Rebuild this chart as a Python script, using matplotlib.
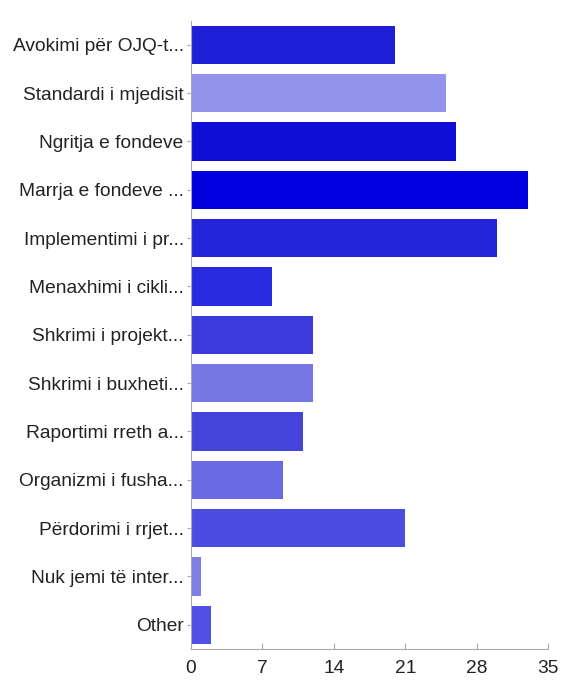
import matplotlib
matplotlib.use("Agg")
import matplotlib.pyplot as plt

categories = [
    "Avokimi për OJQ-t...",
    "Standardi i mjedisit",
    "Ngritja e fondeve",
    "Marrja e fondeve ...",
    "Implementimi i pr...",
    "Menaxhimi i cikli...",
    "Shkrimi i projekt...",
    "Shkrimi i buxheti...",
    "Raportimi rreth a...",
    "Organizmi i fusha...",
    "Përdorimi i rrjet...",
    "Nuk jemi të inter...",
    "Other",
]
values = [20, 25, 26, 33, 30, 8, 12, 12, 11, 9, 21, 1, 2]
colors = ["#1f1fd8", "#9494ec", "#0e0ed6", "#0000df", "#2424da", "#2a2ae0",
          "#3b3bdb", "#7777e6", "#4444dd", "#6a6ae4", "#4c4ce3", "#7f7fe6", "#5050e2"]
xticks = [0, 7, 14, 21, 28, 35]

plt.rcParams["font.family"] = ["Liberation Sans", "DejaVu Sans"]

fig = plt.figure(figsize=(5.65, 6.86), dpi=100)
ax = fig.add_axes([0.3375, 0.054, 0.633, 0.916])

ypos = list(range(len(categories)))
ax.barh(ypos, values, height=0.79, color=colors, edgecolor="none")
ax.set_ylim(len(categories) - 0.5, -0.5)
ax.set_xlim(0, 35)
ax.set_yticks(ypos)
ax.set_yticklabels(categories, fontsize=13.8, color="#222222")
ax.set_xticks(xticks)
ax.set_xticklabels([str(t) for t in xticks], fontsize=13.8, color="#222222")

for s in ["top", "right"]:
    ax.spines[s].set_visible(False)
for s in ["left", "bottom"]:
    ax.spines[s].set_color("#aaaaaa")
    ax.spines[s].set_linewidth(0.8)
ax.tick_params(axis="y", length=3, color="#aaaaaa", pad=2)
ax.tick_params(axis="x", direction="in", length=4, color="#aaaaaa", pad=8)

fig.savefig("out.png", dpi=100, facecolor="white")
